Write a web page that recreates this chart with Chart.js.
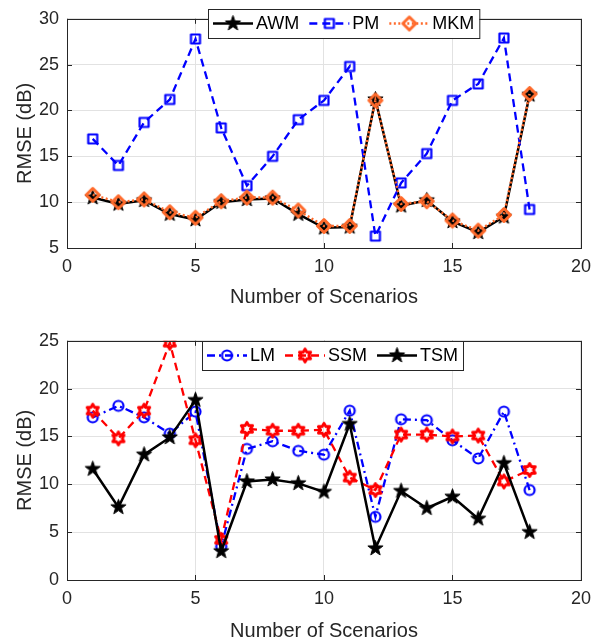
<!DOCTYPE html>
<html lang="en">
<head>
<meta charset="utf-8">
<title>RMSE per scenario</title>
<script src="https://cdn.jsdelivr.net/npm/chart.js"></script>
<style>
  body { margin: 0; background: #fff; }
  #wrap { position: relative; width: 599px; height: 644px; }
  canvas { position: absolute; left: 0; }
</style>
</head>
<body>
<div id="wrap">
  <canvas id="topChart" width="599" height="322" style="top:0"></canvas>
  <canvas id="bottomChart" width="599" height="322" style="top:322px"></canvas>
</div>
<script>
// scenario index 1..18
var scenarios = [1, 2, 3, 4, 5, 6, 7, 8, 9, 10, 11, 12, 13, 14, 15, 16, 17, 18];

// upper panel
var awm = [10.5, 9.8, 10.2, 8.7, 8.1, 10.0, 10.3, 10.4, 8.7, 7.2, 7.3, 21.2, 9.6, 10.2, 7.9, 6.7, 8.4, 21.7];
var pm  = [16.9, 14.0, 18.7, 21.2, 27.8, 18.1, 11.8, 15.0, 19.0, 21.1, 24.8, 6.3, 12.1, 15.3, 21.1, 22.9, 27.9, 9.2];
var mkm = [10.8, 10.0, 10.3, 8.9, 8.3, 10.1, 10.5, 10.5, 9.1, 7.4, 7.4, 21.1, 9.8, 10.1, 8.0, 6.9, 8.6, 21.8];

// lower panel
var lm  = [17.0, 18.2, 17.0, 15.3, 17.6, 3.5, 13.7, 14.5, 13.5, 13.1, 17.7, 6.6, 16.8, 16.7, 14.6, 12.7, 17.6, 9.4];
var ssm = [17.7, 14.8, 17.7, 24.8, 14.6, 4.2, 15.8, 15.6, 15.6, 15.7, 10.7, 9.4, 15.2, 15.2, 15.0, 15.1, 10.3, 11.5];
var tsm = [11.6, 7.6, 13.1, 14.9, 18.8, 3.0, 10.3, 10.5, 10.1, 9.2, 16.3, 3.3, 9.3, 7.5, 8.7, 6.4, 12.2, 5.0];

var xTicks = [0, 5, 10, 15, 20];
var topYRange = [5, 30];
var bottomYRange = [0, 25];

var FONT = '"Liberation Sans", Arial, sans-serif';
var tickColor = '#262626';
var gridColor = '#e2e2e2';
var orange = '#ff6a2b';

function pts(ys) {
  return ys.map(function (v, i) { return { x: scenarios[i], y: v }; });
}

function starPath(g, n, ro, ri) {
  for (var i = 0; i < 2 * n; i++) {
    var r = i % 2 ? ri : ro;
    var a = -Math.PI / 2 + i * Math.PI / n;
    if (i === 0) g.moveTo(r * Math.cos(a), r * Math.sin(a));
    else g.lineTo(r * Math.cos(a), r * Math.sin(a));
  }
  g.closePath();
}

// little offscreen canvases used as point styles
function marker(shape, color, r, lw, filled) {
  var s = Math.ceil(2 * r + lw + 2);
  var c = document.createElement('canvas');
  c.width = s; c.height = s;
  var g = c.getContext('2d');
  g.translate(s / 2, s / 2);
  g.beginPath();
  if (shape === 'pentagram') starPath(g, 5, r, r * 0.4);
  else if (shape === 'hexagram') starPath(g, 6, r, r * 0.58);
  else if (shape === 'square') g.rect(-r, -r, 2 * r, 2 * r);
  else if (shape === 'diamond') { g.moveTo(0, -r); g.lineTo(r, 0); g.lineTo(0, r); g.lineTo(-r, 0); g.closePath(); }
  else g.arc(0, 0, r, 0, Math.PI * 2);
  if (filled) { g.fillStyle = color; g.fill(); }
  g.lineWidth = lw;
  g.strokeStyle = color;
  g.lineJoin = 'round';
  g.stroke();
  return c;
}

var mkStarBlack = marker('pentagram', '#000', 8, 1, true);
var mkSquare = marker('square', '#0000ff', 4.5, 2.2, false);
var mkDiamond = marker('diamond', orange, 6.5, 3, false);
var mkCircle = marker('circle', '#0000ff', 5, 2.2, false);
var mkHex = marker('hexagram', '#ff0000', 6.5, 2.8, false);

function series(label, data, color, dash, width, mk) {
  return {
    label: label, data: pts(data),
    borderColor: color, borderWidth: width, borderDash: dash,
    pointStyle: mk, pointRadius: 6, pointHoverRadius: 6,
    backgroundColor: 'transparent', fill: false, tension: 0
  };
}

function drawLegend(g, items, left, top, h) {
  g.save();
  g.font = '18px ' + FONT;
  var pad = 5, lineLen = 40, gap = 3, between = 10;
  var w = pad;
  items.forEach(function (it, i) {
    w += lineLen + gap + g.measureText(it.label).width + (i < items.length - 1 ? between : pad);
  });
  g.fillStyle = '#fff';
  g.fillRect(left, top, w, h);
  g.strokeStyle = '#262626';
  g.lineWidth = 1;
  g.strokeRect(left + 0.5, top + 0.5, w, h);
  var x = left + pad, cy = top + h / 2;
  items.forEach(function (it) {
    g.beginPath();
    g.setLineDash(it.dash);
    g.strokeStyle = it.color;
    g.lineWidth = it.width;
    g.moveTo(x, cy); g.lineTo(x + lineLen, cy);
    g.stroke();
    g.setLineDash([]);
    var m = it.marker;
    g.drawImage(m, x + lineLen / 2 - m.width / 2, cy - m.height / 2);
    g.fillStyle = '#000';
    g.textBaseline = 'middle';
    g.textAlign = 'left';
    g.fillText(it.label, x + lineLen + gap, cy + 1);
    x += lineLen + gap + g.measureText(it.label).width + between;
  });
  g.restore();
}

// axes box, inward tick marks and legend
var framePlugin = {
  id: 'frame',
  afterDraw: function (chart, args, opts) {
    var a = chart.chartArea, g = chart.ctx;
    var xs = chart.scales.x, ys = chart.scales.y;
    g.save();
    g.strokeStyle = '#262626';
    g.lineWidth = 1;
    g.beginPath();
    xs.ticks.forEach(function (t) {
      var px = Math.round(xs.getPixelForValue(t.value)) + 0.5;
      g.moveTo(px, a.bottom); g.lineTo(px, a.bottom - 5);
      g.moveTo(px, a.top); g.lineTo(px, a.top + 5);
    });
    ys.ticks.forEach(function (t) {
      var py = Math.round(ys.getPixelForValue(t.value)) + 0.5;
      g.moveTo(a.left, py); g.lineTo(a.left + 5, py);
      g.moveTo(a.right, py); g.lineTo(a.right - 5, py);
    });
    g.stroke();
    g.strokeRect(Math.round(a.left) + 0.5, Math.round(a.top) + 0.5,
                 Math.round(a.right - a.left), Math.round(a.bottom - a.top));
    g.restore();
    drawLegend(g, opts.items, opts.left, opts.top, opts.height);
  }
};

function options(yRange, padTop, xAxisHeight, titlePad, legend) {
  return {
    responsive: false,
    animation: false,
    layout: { padding: { top: padTop, right: 18, left: 0, bottom: 0 } },
    plugins: { legend: { display: false }, tooltip: { enabled: false }, frame: legend },
    scales: {
      x: {
        type: 'linear', min: xTicks[0], max: xTicks[xTicks.length - 1],
        afterBuildTicks: function (s) { s.ticks = xTicks.map(function (v) { return { value: v }; }); },
        ticks: { color: tickColor, font: { family: FONT, size: 18 }, padding: 8, maxRotation: 0 },
        grid: { color: gridColor, drawTicks: false },
        border: { display: false },
        title: { display: true, text: 'Number of Scenarios', color: tickColor,
                 font: { family: FONT, size: 20 }, padding: { top: 0, bottom: titlePad } },
        afterFit: function (s) { s.height = xAxisHeight; }
      },
      y: {
        min: yRange[0], max: yRange[1],
        ticks: { stepSize: 5, color: tickColor, font: { family: FONT, size: 18 }, padding: 8 },
        grid: { color: gridColor, drawTicks: false },
        border: { display: false },
        title: { display: true, text: 'RMSE (dB)', color: tickColor,
                 font: { family: FONT, size: 20 }, padding: { top: 13, bottom: 0 } },
        afterFit: function (s) { s.width = 67; }
      }
    }
  };
}

new Chart(document.getElementById('topChart'), {
  type: 'line',
  data: {
    datasets: [
      series('MKM', mkm, orange, [2, 2.5], 2.5, mkDiamond),
      series('PM', pm, '#0000ff', [8, 5], 2.3, mkSquare),
      series('AWM', awm, '#000', [], 2.5, mkStarBlack)
    ]
  },
  options: options(topYRange, 8, 74, 13, {
    left: 208, top: 9, height: 29,
    items: [
      { label: 'AWM', color: '#000', dash: [], width: 2.5, marker: mkStarBlack },
      { label: 'PM', color: '#0000ff', dash: [8, 5], width: 2.3, marker: mkSquare },
      { label: 'MKM', color: orange, dash: [2, 2.5], width: 2.5, marker: mkDiamond }
    ]
  }),
  plugins: [framePlugin]
});

new Chart(document.getElementById('bottomChart'), {
  type: 'line',
  data: {
    datasets: [
      series('TSM', tsm, '#000', [], 2.5, mkStarBlack),
      series('SSM', ssm, '#ff0000', [8, 5], 2.3, mkHex),
      series('LM', lm, '#0000ff', [8, 4, 2, 4], 2.3, mkCircle)
    ]
  },
  options: options(bottomYRange, 18, 64, 1, {
    left: 202, top: 19, height: 29,
    items: [
      { label: 'LM', color: '#0000ff', dash: [8, 4, 2, 4], width: 2.3, marker: mkCircle },
      { label: 'SSM', color: '#ff0000', dash: [8, 5], width: 2.3, marker: mkHex },
      { label: 'TSM', color: '#000', dash: [], width: 2.5, marker: mkStarBlack }
    ]
  }),
  plugins: [framePlugin]
});
</script>
</body>
</html>
